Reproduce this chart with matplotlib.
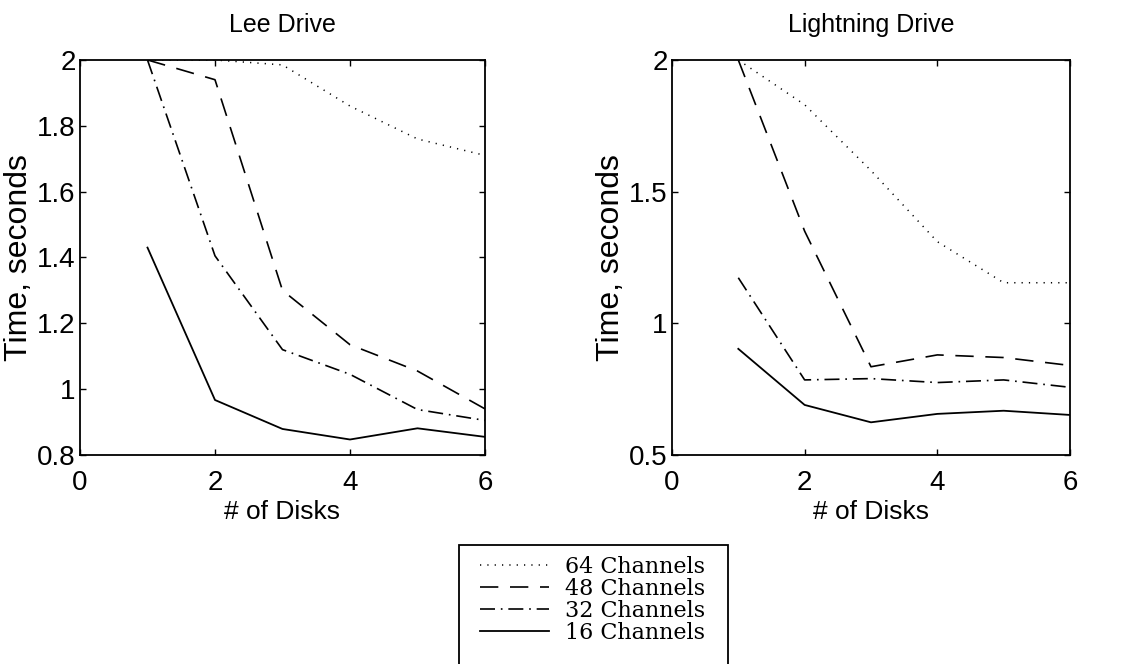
import matplotlib
matplotlib.use("Agg")
import matplotlib.pyplot as plt
from matplotlib.lines import Line2D
from matplotlib.patches import Rectangle

plt.rcParams['font.family'] = ['Liberation Sans', 'DejaVu Sans']

# Number of disks
disks = [1, 2, 3, 4, 5, 6]

# Lee Drive timings (seconds)
lee_64 = [2.00, 2.00, 1.985, 1.86, 1.76, 1.71]
lee_48 = [2.00, 1.94, 1.30, 1.135, 1.055, 0.94]
lee_32 = [2.00, 1.405, 1.12, 1.045, 0.938, 0.905]
lee_16 = [1.43, 0.967, 0.879, 0.847, 0.881, 0.855]

# Lightning Drive timings (seconds)
ltn_64 = [2.00, 1.83, 1.58, 1.31, 1.154, 1.154]
ltn_48 = [2.00, 1.35, 0.835, 0.88, 0.87, 0.84]
ltn_32 = [1.173, 0.785, 0.79, 0.775, 0.785, 0.757]
ltn_16 = [0.903, 0.69, 0.624, 0.656, 0.668, 0.652]

channel_labels = ['64 Channels', '48 Channels', '32 Channels', '16 Channels']

# dash patterns for each channel count
styles = [
    dict(dashes=(0.8, 4.0), lw=1.1),
    dict(dashes=(11, 7), lw=1.2),
    dict(dashes=(9, 3.5, 1, 3.5), lw=1.2),
    dict(linestyle='-', lw=1.3),
]


def draw_panel(ax, series, title, ylim, yticks, yticklabels):
    for vals, st in zip(series, styles):
        ax.plot(disks, vals, color='black', **st)
    ax.set_xlim(0, 6)
    ax.set_ylim(*ylim)
    ax.set_xticks([0, 2, 4, 6])
    ax.set_yticks(yticks)
    ax.set_yticklabels(yticklabels)
    ax.tick_params(direction='in', length=4, width=1, top=True, right=True,
                   labelsize=20)
    ax.tick_params(axis='x', pad=11)
    ax.tick_params(axis='y', pad=3)
    for s in ax.spines.values():
        s.set_linewidth(1.3)
    ax.set_title(title, fontsize=18, pad=20)
    ax.set_xlabel('# of Disks', fontsize=19, labelpad=3)
    ax.set_ylabel('Time, seconds', fontsize=23, labelpad=2)


fig = plt.figure(figsize=(11.25, 6.64), dpi=100)
ax1 = fig.add_axes([0.0711, 0.3148, 0.36, 0.5949])
ax2 = fig.add_axes([0.5973, 0.3148, 0.3538, 0.5949])

draw_panel(ax1, [lee_64, lee_48, lee_32, lee_16], 'Lee Drive', (0.8, 2.0),
           [0.8, 1.0, 1.2, 1.4, 1.6, 1.8, 2.0],
           ['0.8', '1', '1.2', '1.4', '1.6', '1.8', '2'])
draw_panel(ax2, [ltn_64, ltn_48, ltn_32, ltn_16], 'Lightning Drive', (0.5, 2.0),
           [0.5, 1.0, 1.5, 2.0], ['0.5', '1', '1.5', '2'])

# shared legend below the panels, box runs off the bottom edge
handles = [Line2D([], [], color='black', **st) for st in styles]
fig.legend(handles, channel_labels, loc='upper left',
           bbox_to_anchor=(468 / 1125, 1 - 544 / 664), frameon=False,
           prop={'family': 'DejaVu Serif', 'size': 16}, handlelength=3.1,
           handletextpad=0.7, labelspacing=0.0, borderpad=0.05)
fig.patches.append(Rectangle((459 / 1125, -0.05), (728 - 459) / 1125,
                             0.05 + 1 - 545 / 664, transform=fig.transFigure,
                             fill=False, edgecolor='black', lw=1.3))

fig.savefig('out.png', dpi=100)
